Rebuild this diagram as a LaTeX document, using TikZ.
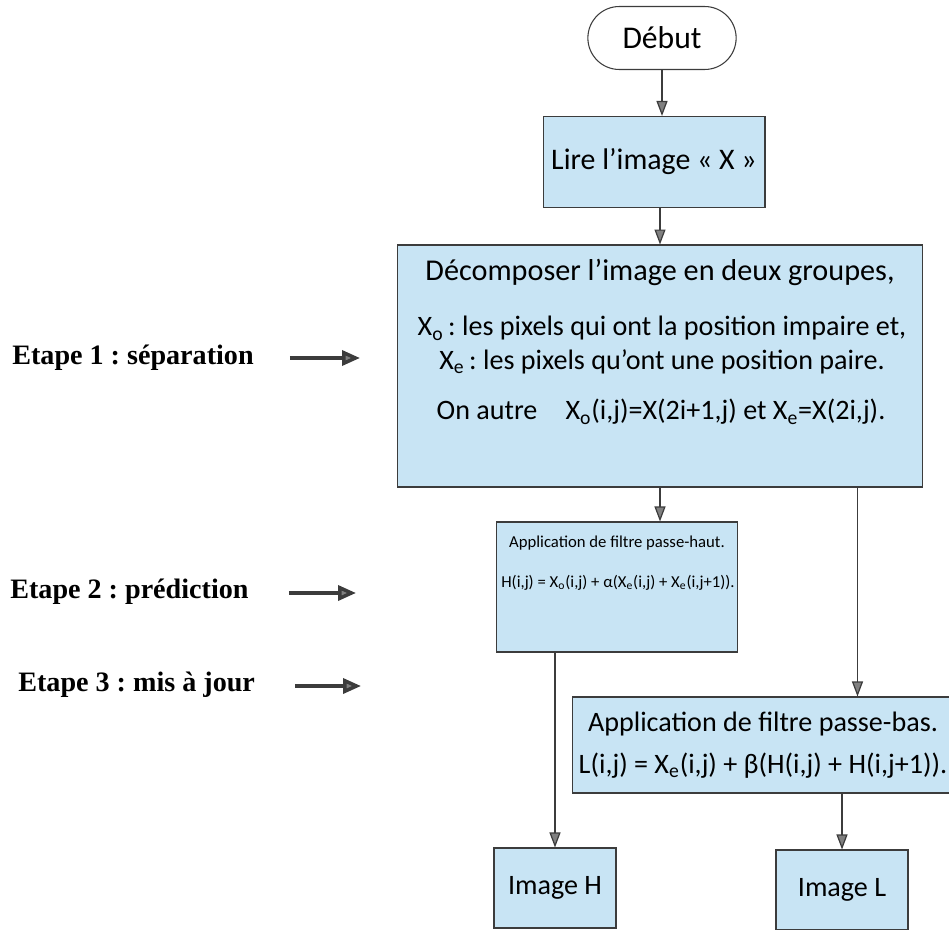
\documentclass[tikz,border=0pt]{standalone}
\usepackage{fontspec}
\setmainfont{Carlito}
\newfontfamily\etapefont{Liberation Serif}
\usetikzlibrary{shapes.misc, arrows.meta, positioning}
\definecolor{boxblue}{RGB}{200,228,244}
\definecolor{linegray}{RGB}{60,60,60}
\frenchspacing

\begin{document}
\begin{tikzpicture}[
        x=0.02cm, y=-0.02cm,
        start/.style={rounded rectangle, draw=linegray, line width=0.6pt, fill=white, minimum width=3.2cm, minimum height=1.26cm, font=\fontsize{18}{21}\selectfont},
        process/.style={rectangle, draw=linegray, line width=0.6pt, fill=boxblue, align=center},
        txt/.style={inner sep=0pt, align=center, font=\fontsize{16}{19}\selectfont},
        etape/.style={anchor=west, inner sep=0pt, font=\etapefont\bfseries\fontsize{16}{19}\selectfont},
        arrow/.style={-{Triangle[length=0.3cm, width=0.22cm, fill=gray]}, draw=linegray, line width=0.7pt},
        steparrow/.style={-{Triangle[length=0.36cm, width=0.3cm, fill=gray]}, draw=linegray, line width=2pt}
    ]
        \useasboundingbox (0,0) rectangle (949,929);

        \node[start] (debut) at (662,38) {Début};
        \node[process, minimum width=4.44cm, minimum height=1.82cm, font=\fontsize{17}{20}\selectfont] (lire) at (654,162) {Lire l’image « X »};
        \node[process, minimum width=10.52cm, minimum height=4.84cm] (decomp) at (660,366) {};
        \node[process, minimum width=4.82cm, minimum height=2.6cm] (pred) at (617,587) {};
        \node[process, minimum width=7.56cm, minimum height=1.92cm, font=\fontsize{16}{19}\selectfont] (maj) at (763,745) {Application de filtre passe-bas.\\[5pt]L(i,j) = X\textsubscript{e}(i,j) + β(H(i,j) + H(i,j+1)).};
        \node[process, minimum width=2.44cm, minimum height=1.6cm, font=\fontsize{16}{19}\selectfont] (imgH) at (555,888) {Image H};
        \node[process, minimum width=2.64cm, minimum height=1.6cm, font=\fontsize{16}{19}\selectfont] (imgL) at (842,890) {Image L};

        % texte des blocs
        \node[txt, font=\fontsize{17.2}{20}\selectfont] (decompA) at (660,272) {Décomposer l’image en deux groupes,};
        \node[txt] (decompB) at (662,345) {X\textsubscript{o}\,: les pixels qui ont la position impaire et,\\X\textsubscript{e}\,: les pixels qu’ont une position paire.};
        \node[txt] (decompC) at (661,412) {On autre\quad X\textsubscript{o}(i,j)=X(2i+1,j) et X\textsubscript{e}=X(2i,j).};
        \node[txt, font=\fontsize{9.5}{11}\selectfont] (predA) at (617,543) {Application de filtre passe-haut.};
        \node[txt, font=\fontsize{9.5}{11}\selectfont] (predB) at (618,583) {H(i,j) = X\textsubscript{o}(i,j) + α(X\textsubscript{e}(i,j) + X\textsubscript{e}(i,j+1)).};

        % etapes
        \node[etape] (etape1) at (12,358) {Etape 1 : séparation};
        \node[etape] (etape2) at (10,592) {Etape 2 : prédiction};
        \node[etape] (etape3) at (18,685) {Etape 3 : mis à jour};
        \coordinate (fin1) at (360,358);
        \coordinate (fin2) at (356,593);
        \coordinate (fin3) at (361,686);

        \draw[steparrow, shorten <=0.72cm] (etape1.east |- fin1) -- (fin1);
        \draw[steparrow, shorten <=0.8cm] (etape2.east |- fin2) -- (fin2);
        \draw[steparrow, shorten <=0.8cm] (etape3.east |- fin3) -- (fin3);

        % liaisons
        \draw[arrow] (debut.south) -- (debut.south |- lire.north);
        \draw[arrow] (decomp.north |- lire.south) -- (decomp.north);
        \draw[arrow] (decomp.south) -- (decomp.south |- pred.north);
        \coordinate (split) at ([xshift=-1.32cm]decomp.south east);
        \draw[arrow] (split) -- (split |- maj.north);
        \draw[arrow] (imgH.north |- pred.south) -- (imgH.north);
        \draw[arrow] (imgL.north |- maj.south) -- (imgL.north);

    \end{tikzpicture}
\end{document}
